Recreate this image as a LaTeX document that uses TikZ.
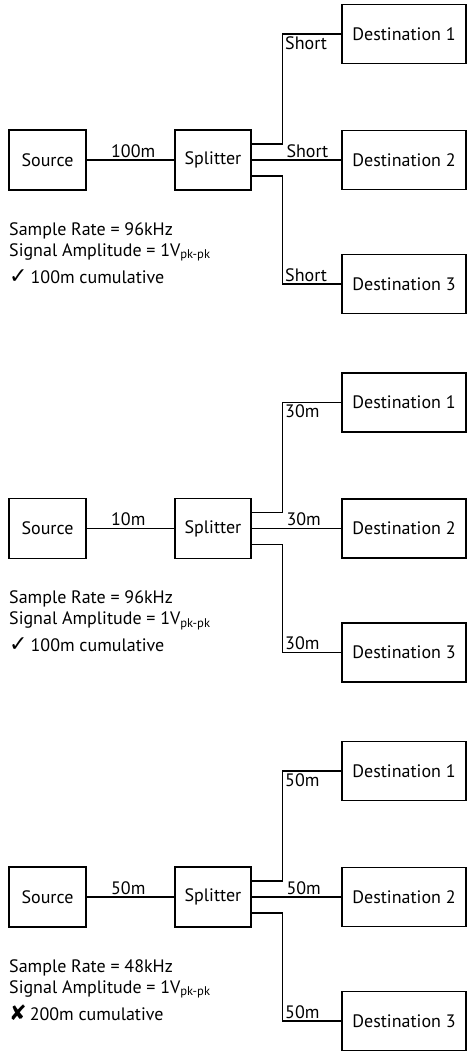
\documentclass[tikz,border=0pt]{standalone}
\usepackage{fontspec}
\setmainfont{PT Sans}
\newfontfamily\symfont{DejaVu Sans}
\newcommand{\okmark}{{\symfont\fontsize{22}{22}\selectfont ✓}}
\newcommand{\badmark}{{\symfont\fontsize{21}{21}\selectfont ✘}}

\begin{document}
\begin{tikzpicture}[x=1pt,y=1pt,font=\fontsize{18}{21}\selectfont]

\def\vertspace{368.5}
\def\branch{16pt}

\tikzstyle{source}=[rectangle,draw,line width=1.2pt,minimum width=77pt,minimum height=60pt,inner sep=0pt]
\tikzstyle{splitter}=[source,minimum width=76pt]
\tikzstyle{destination}=[source,minimum width=124pt,minimum height=59pt]
\tikzstyle{cable}=[line width=1.2pt]
\tikzstyle{length}=[inner sep=2pt]
\tikzstyle{note}=[anchor=base west,inner sep=0pt]

\useasboundingbox (0,0) rectangle (468,-1052);

%panel 1
\node[source] (src1) at (47.5,-160-0*\vertspace) {Source};
\node[splitter] (spl1) at (213,-160-0*\vertspace) {Splitter};
\node[destination] (d11) at (404,-34-0*\vertspace) {Destination 1};
\node[destination] (d12) at (404,-160-0*\vertspace) {Destination 2};
\node[destination] (d13) at (404,-284-0*\vertspace) {Destination 3};

\draw[cable] (src1) -- (spl1) node[length,pos=0.25,anchor=south west] (len1) {100m};
\draw[cable] ([yshift=\branch]spl1.east) -- ++(31,0) |- (d11.west) node[length,pos=0.5,anchor=north west] (len11) {Short};
\draw[cable] (spl1) -- (d12) node[length,pos=0.36,anchor=south west] (len12) {Short};
\draw[cable] ([yshift=-\branch]spl1.east) -- ++(31,0) |- (d13.west) node[length,pos=0.5,anchor=south west] (len13) {Short};

\node[note] (rate1) at (9,-235-0*\vertspace) {Sample Rate = 96kHz};
\node[note] (amp1) at (9,-256-0*\vertspace) {Signal Amplitude = 1V\textsubscript{pk-pk}};
\node[note] (cum1) at (9,-283-0*\vertspace) {\okmark\,100m cumulative};

%panel 2
\node[source] (src2) at (47.5,-160-1*\vertspace) {Source};
\node[splitter] (spl2) at (213,-160-1*\vertspace) {Splitter};
\node[destination] (d21) at (404,-34-1*\vertspace) {Destination 1};
\node[destination] (d22) at (404,-160-1*\vertspace) {Destination 2};
\node[destination] (d23) at (404,-284-1*\vertspace) {Destination 3};

\draw[cable] (src2) -- (spl2) node[length,pos=0.25,anchor=south west] (len2) {10m};
\draw[cable] ([yshift=\branch]spl2.east) -- ++(31,0) |- (d21.west) node[length,pos=0.5,anchor=north west] (len21) {30m};
\draw[cable] (spl2) -- (d22) node[length,pos=0.36,anchor=south west] (len22) {30m};
\draw[cable] ([yshift=-\branch]spl2.east) -- ++(31,0) |- (d23.west) node[length,pos=0.5,anchor=south west] (len23) {30m};

\node[note] (rate2) at (9,-235-1*\vertspace) {Sample Rate = 96kHz};
\node[note] (amp2) at (9,-256-1*\vertspace) {Signal Amplitude = 1V\textsubscript{pk-pk}};
\node[note] (cum2) at (9,-283-1*\vertspace) {\okmark\,100m cumulative};

%panel 3
\node[source] (src3) at (47.5,-160-2*\vertspace) {Source};
\node[splitter] (spl3) at (213,-160-2*\vertspace) {Splitter};
\node[destination] (d31) at (404,-34-2*\vertspace) {Destination 1};
\node[destination] (d32) at (404,-160-2*\vertspace) {Destination 2};
\node[destination] (d33) at (404,-284-2*\vertspace) {Destination 3};

\draw[cable] (src3) -- (spl3) node[length,pos=0.25,anchor=south west] (len3) {50m};
\draw[cable] ([yshift=\branch]spl3.east) -- ++(31,0) |- (d31.west) node[length,pos=0.5,anchor=north west] (len31) {50m};
\draw[cable] (spl3) -- (d32) node[length,pos=0.36,anchor=south west] (len32) {50m};
\draw[cable] ([yshift=-\branch]spl3.east) -- ++(31,0) |- (d33.west) node[length,pos=0.5,anchor=south west] (len33) {50m};

\node[note] (rate3) at (9,-235-2*\vertspace) {Sample Rate = 48kHz};
\node[note] (amp3) at (9,-256-2*\vertspace) {Signal Amplitude = 1V\textsubscript{pk-pk}};
\node[note] (cum3) at (9,-283-2*\vertspace) {\badmark\,200m cumulative};

\end{tikzpicture}
\end{document}
